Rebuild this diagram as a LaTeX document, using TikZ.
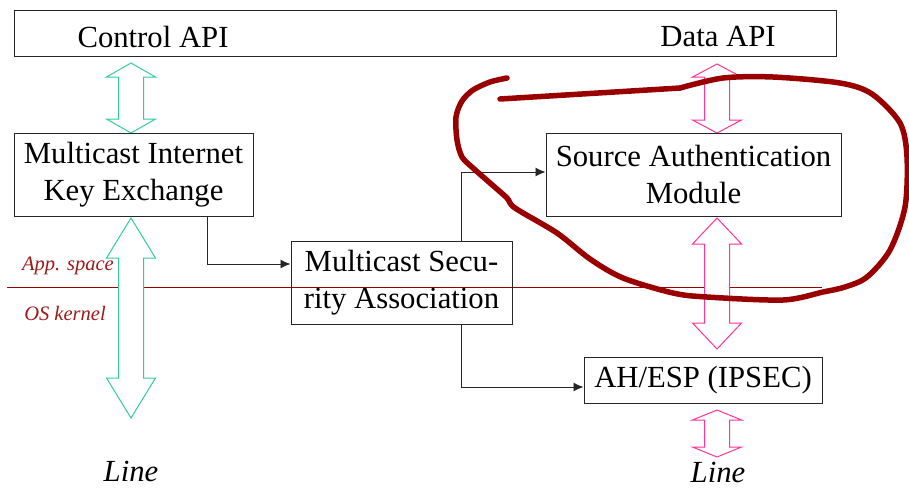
\documentclass[tikz,border=0pt]{standalone}
\usepackage{fontspec}
\setmainfont{Liberation Serif}
\usetikzlibrary{arrows.meta}
\definecolor{kmgreen}{HTML}{33CC99}
\definecolor{kmpink}{HTML}{FF3399}
\definecolor{kmred}{HTML}{990000}
\definecolor{kmlabel}{HTML}{A01818}

% hollow two-headed block arrow: colour, x, top y, bottom y, head length
\newcommand\blockarrow[5]{%
  \filldraw[draw=#1, fill=white, line width=1pt]
    (#2,#3) -- ({#2+24.5},{#3+#5}) -- ({#2+12.5},{#3+#5}) --
    ({#2+12.5},{#4-#5}) -- ({#2+24.5},{#4-#5}) -- (#2,#4) --
    ({#2-24.5},{#4-#5}) -- ({#2-12.5},{#4-#5}) --
    ({#2-12.5},{#3+#5}) -- ({#2-24.5},{#3+#5}) -- cycle;}

\begin{document}
\begin{tikzpicture}[x=1pt,y=-1pt,
  box/.style={draw=black!85, line width=1pt, inner sep=0pt, align=center,
    font=\fontsize{30.7}{37}\selectfont},
  lbl/.style={inner sep=0pt, font=\fontsize{30.7}{37}\selectfont},
  layer/.style={inner sep=0pt, text=kmlabel, font=\fontsize{20.5}{24}\selectfont\itshape},
  conn/.style={draw=black!85, line width=0.9pt, -{Latex[length=10pt,width=9pt]}},
  lasso/.style={draw=kmred, line width=5.5pt, line cap=round, line join=round}]
\useasboundingbox (0,0) rectangle (909,488);

% boundary between application space and kernel
\draw[kmred, line width=1pt] (7,287) -- (822,287);
\node[layer] (app) at (68,266) {App. space};
\node[layer] (os) at (65,313) {OS kernel};

% block arrows (drawn over the boundary line)
\blockarrow{kmgreen}{131}{63}{133}{14}
\blockarrow{kmgreen}{131}{218}{418}{40}
\blockarrow{kmpink}{717}{64}{133}{13}
\blockarrow{kmpink}{717}{218}{349}{26}
\blockarrow{kmpink}{717}{410}{457}{10}

% boxes
\node[box, minimum width=822, minimum height=46] (api) at (425,33) {};
\node[lbl] (ctl) at (153,37) {Control API};
\node[lbl] (data) at (718,37) {Data API};
\node[box, minimum width=239, minimum height=83] (mike) at (133.5,174.5)
  {Multicast Internet\\Key Exchange};
\node[box, minimum width=221, minimum height=83] (msa) at (401.5,282.5)
  {Multicast Secu-\\rity Association};
\node[box, minimum width=295, minimum height=83] (sam) at (693.5,174.5)
  {Source Authentication\\Module};
\node[box, minimum width=238, minimum height=46] (ah) at (703,380)
  {AH/ESP (IPSEC)};

% connectors
\draw[conn] (mike.south -| 207,0) |- (msa.west |- 0,264);
\draw[conn] (msa.north -| 461,0) |- (sam.west |- 0,172);
\draw[conn] (msa.south -| 461,0) |- (ah.west |- 0,387);

% line labels
\node[lbl, font=\fontsize{30.7}{37}\selectfont\itshape] (line1) at (131,471) {Line};
\node[lbl, font=\fontsize{30.7}{37}\selectfont\itshape] (line2) at (718,472) {Line};

% hand-drawn lasso round the authentication module
\draw[lasso] plot[smooth, tension=0.5] coordinates {
  (507,78) (490,82) (473,90) (462,101) (456,117) (457,140) (462,157)
  (473,168) (490,183) (507,198) (515,208) (557,233) (590,259) (623,278)
  (673,293) (707,297) (783,300) (823,292) (845,287) (867,277) (890,250)
  (905,207) (907,157) (900,123) (872,94) (840,83) (773,77) (723,78)
  (680,88)};
\draw[lasso] (680,88) -- (500,99);
\end{tikzpicture}
\end{document}
